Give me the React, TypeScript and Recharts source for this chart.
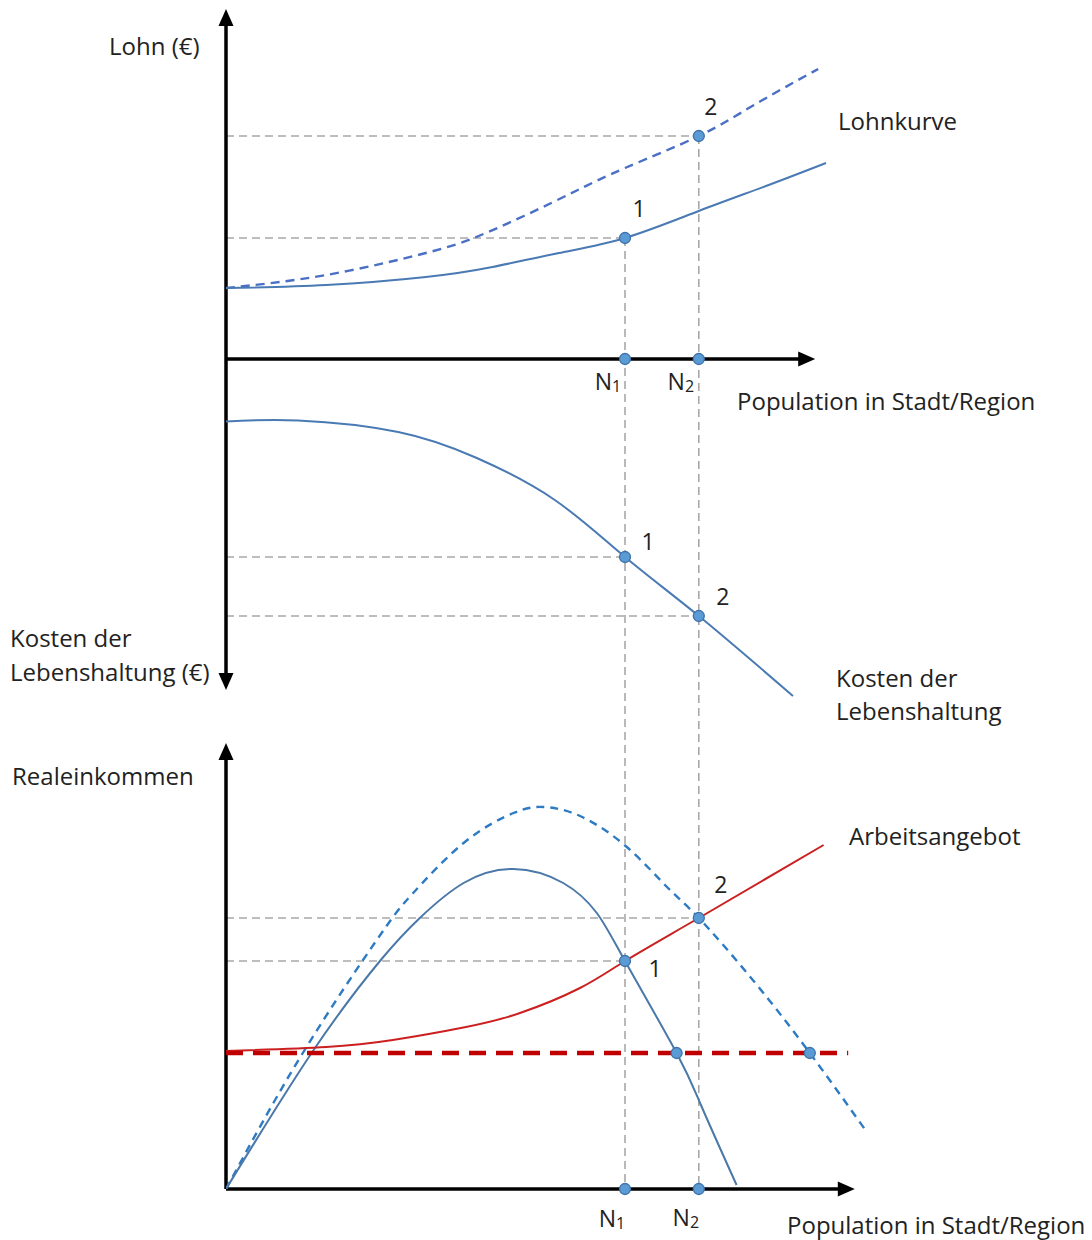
import React from 'react';
import { ComposedChart, Line, XAxis, YAxis, ReferenceLine, ReferenceDot } from 'recharts';

// ---- population positions ----
const N1 = 66.5;
const N2 = 78.8;

// ---- top panel: wages (Lohn) ----
const WAGE_X = [0, 16.7, 33.3, 44.4, 55.5, 66.5, 78.8, 90, 100];
const WAGE_BASE = [7.1, 7.4, 8.2, 9.2, 10.6, 12.1, 14.8, 17.3, 19.6];
const WAGE_HIGH_X = [0, 16.7, 33.3, 41.7, 50, 58.3, 66.5, 78.8, 88, 98.7];
const WAGE_HIGH = [7.1, 8.4, 10.6, 12.2, 14.4, 16.8, 19.1, 22.3, 25.4, 29.0];
const W1 = 12.1;
const W2 = 22.3;

// ---- middle panel: cost of living (plotted downward) ----
const COST_X = [0, 12, 28.7, 41.8, 54.8, 66.5, 78.8, 94.5];
const COST = [6.25, 6.15, 7.3, 9.9, 14.1, 19.8, 25.7, 33.7];
const C1 = 19.8;
const C2 = 25.7;

// ---- bottom panel: real income ----
const REAL_X = [0, 14.6, 25.8, 32.3, 39.6, 47.9, 56.2, 61.8, 66.5, 75.1, 79.3, 85.1];
const REAL = [0, 13.9, 22.9, 27.1, 30.6, 32.0, 30.6, 27.6, 22.8, 13.6, 8.2, 0.4];
const REAL_HIGH_X = [0, 12.8, 25.7, 31.2, 39.6, 47.9, 52.9, 59, 66.8, 73.5, 78.8, 87.8, 97.3, 106.8];
const REAL_HIGH = [0, 13.6, 25.4, 29.6, 34.6, 37.6, 38.2, 37.3, 34.2, 30.2, 27.1, 20.9, 13.6, 5.7];
const SUPPLY_X = [0, 16.7, 27.8, 40, 49, 59, 66.5, 78.8, 99.6];
const SUPPLY = [13.8, 14.2, 14.9, 16.2, 17.6, 20.1, 22.8, 27.1, 34.4];
const RESERVATION = 13.6;
const RESERVATION_END = 103.7;
const R1 = 22.8;
const R2 = 27.1;
const XA = 75.1;
const XB = 97.3;

// ---- axis extents ----
const X_DOMAIN = [0, 120];
const WAGE_DOMAIN = [-83, 35];
const COST_DOMAIN = [-35, 83];
const REAL_DOMAIN = [0, 118];
const WAGE_AXIS_TOP = 35;
const COST_AXIS_END = 33.1;
const TOP_POP_AXIS_END = 98.2;
const REAL_AXIS_TOP = 44.6;
const BOTTOM_POP_AXIS_END = 104.8;

const zip = (xs: number[], ys: number[]) => xs.map((x, i) => ({ x, y: ys[i] }));

const wageBase = zip(WAGE_X, WAGE_BASE);
const wageHigh = zip(WAGE_HIGH_X, WAGE_HIGH);
const cost = zip(COST_X, COST);
const real = zip(REAL_X, REAL);
const realHigh = zip(REAL_HIGH_X, REAL_HIGH);
const supply = zip(SUPPLY_X, SUPPLY);

const FONT = "'Open Sans', sans-serif";
const FS = 24;
const TXT = '#222';

const arrow = (props: any) => {
  const { x1, y1, x2, y2 } = props;
  const dx = x2 - x1;
  const dy = y2 - y1;
  const len = Math.hypot(dx, dy) || 1;
  const ux = dx / len;
  const uy = dy / len;
  const L = 17;
  const W = 7.5;
  const bx = x2 - ux * L;
  const by = y2 - uy * L;
  const pts = `${x2},${y2} ${bx - uy * W},${by + ux * W} ${bx + uy * W},${by - ux * W}`;
  return (
    <g>
      <line x1={x1} y1={y1} x2={bx + ux * 2} y2={by + uy * 2} stroke="#000" strokeWidth={3.5} />
      <polygon points={pts} fill="#000" />
    </g>
  );
};

const dot = (label: string, dx: number, dy: number) => (p: any) => (
  <g>
    <circle cx={p.cx} cy={p.cy} r={5.5} fill="#5b9bd5" stroke="#3f72a8" strokeWidth={1.3} />
    {label ? (
      <text x={p.cx + dx} y={p.cy + dy} textAnchor="middle" dominantBaseline="central" fontFamily={FONT} fontSize={FS - 1} fill={TXT}>
        {label}
      </text>
    ) : null}
  </g>
);

const nDot = (sub: string, dx: number, dy: number) => (p: any) => (
  <g>
    <circle cx={p.cx} cy={p.cy} r={5.5} fill="#5b9bd5" stroke="#3f72a8" strokeWidth={1.3} />
    <text x={p.cx + dx} y={p.cy + dy} textAnchor="middle" dominantBaseline="central" fontFamily={FONT} fontSize={FS - 1} fill={TXT}>
      N<tspan fontSize={16} dy={5}>{sub}</tspan>
    </text>
  </g>
);

const gray = { stroke: '#a8a8a8', strokeWidth: 1.6, strokeDasharray: '8 5', ifOverflow: 'visible' as const };

const labels: { t: string; x: number; y: number }[] = [
  { t: 'Lohn (€)', x: 109, y: 48 },
  { t: 'Lohnkurve', x: 838, y: 123 },
  { t: 'Population in Stadt/Region', x: 737, y: 403 },
  { t: 'Kosten der', x: 10, y: 640 },
  { t: 'Lebenshaltung (€)', x: 10, y: 674 },
  { t: 'Kosten der', x: 836, y: 680 },
  { t: 'Lebenshaltung', x: 836, y: 713 },
  { t: 'Realeinkommen', x: 12, y: 778 },
  { t: 'Arbeitsangebot', x: 849, y: 838 },
  { t: 'Population in Stadt/Region', x: 787, y: 1227 },
];

const curve = { type: 'natural' as const, dot: false, activeDot: false, isAnimationActive: false };

export default function App() {
  return (
    <div style={{ position: 'absolute', left: 0, top: 0, width: 1092, height: 1240, background: '#fff' }}>
      <ComposedChart width={1092} height={1240} margin={{ top: 9, right: 146, bottom: 51, left: 226 }}>
        <XAxis dataKey="x" type="number" domain={X_DOMAIN} hide allowDataOverflow />
        <YAxis yAxisId="wage" type="number" domain={WAGE_DOMAIN} hide allowDataOverflow />
        <YAxis yAxisId="cost" type="number" domain={COST_DOMAIN} reversed hide allowDataOverflow />
        <YAxis yAxisId="real" type="number" domain={REAL_DOMAIN} hide allowDataOverflow />

        {/* guide lines */}
        <ReferenceLine yAxisId="wage" segment={[{ x: 0, y: W1 }, { x: N1, y: W1 }]} {...gray} />
        <ReferenceLine yAxisId="wage" segment={[{ x: 0, y: W2 }, { x: N2, y: W2 }]} {...gray} />
        <ReferenceLine yAxisId="wage" segment={[{ x: N1, y: W1 }, { x: N1, y: WAGE_DOMAIN[0] }]} {...gray} />
        <ReferenceLine yAxisId="wage" segment={[{ x: N2, y: W2 }, { x: N2, y: WAGE_DOMAIN[0] }]} {...gray} />
        <ReferenceLine yAxisId="cost" segment={[{ x: 0, y: C1 }, { x: N1, y: C1 }]} {...gray} />
        <ReferenceLine yAxisId="cost" segment={[{ x: 0, y: C2 }, { x: N2, y: C2 }]} {...gray} />
        <ReferenceLine yAxisId="real" segment={[{ x: 0, y: R1 }, { x: N1, y: R1 }]} {...gray} />
        <ReferenceLine yAxisId="real" segment={[{ x: 0, y: R2 }, { x: N2, y: R2 }]} {...gray} />

        {/* axes */}
        <ReferenceLine yAxisId="wage" segment={[{ x: 0, y: 0 }, { x: 0, y: WAGE_AXIS_TOP }]} shape={arrow} ifOverflow="visible" />
        <ReferenceLine yAxisId="cost" segment={[{ x: 0, y: 0 }, { x: 0, y: COST_AXIS_END }]} shape={arrow} ifOverflow="visible" />
        <ReferenceLine yAxisId="wage" segment={[{ x: 0, y: 0 }, { x: TOP_POP_AXIS_END, y: 0 }]} shape={arrow} ifOverflow="visible" />
        <ReferenceLine yAxisId="real" segment={[{ x: 0, y: 0 }, { x: 0, y: REAL_AXIS_TOP }]} shape={arrow} ifOverflow="visible" />
        <ReferenceLine yAxisId="real" segment={[{ x: 0, y: 0 }, { x: BOTTOM_POP_AXIS_END, y: 0 }]} shape={arrow} ifOverflow="visible" />

        {/* curves */}
        <Line yAxisId="wage" data={wageHigh} dataKey="y" stroke="#4a6fc4" strokeWidth={2.4} strokeDasharray="9 6" {...curve} />
        <Line yAxisId="wage" data={wageBase} dataKey="y" stroke="#4a7ab3" strokeWidth={2} {...curve} />
        <Line yAxisId="cost" data={cost} dataKey="y" stroke="#4a7ab3" strokeWidth={2} {...curve} />
        <Line yAxisId="real" data={realHigh} dataKey="y" stroke="#2e7bc4" strokeWidth={2.4} strokeDasharray="8 6" {...curve} />
        <Line yAxisId="real" data={real} dataKey="y" stroke="#4a78a8" strokeWidth={2} {...curve} />
        <Line yAxisId="real" data={supply} dataKey="y" stroke="#cc2020" strokeWidth={2} {...curve} />
        <ReferenceLine yAxisId="real" segment={[{ x: 0, y: RESERVATION }, { x: RESERVATION_END, y: RESERVATION }]} stroke="#c00000" strokeWidth={4.5} strokeDasharray="17 10" ifOverflow="visible" />

        {/* points */}
        <ReferenceDot yAxisId="wage" x={N1} y={W1} r={5} shape={dot('1', 14, -30)} ifOverflow="visible" />
        <ReferenceDot yAxisId="wage" x={N2} y={W2} r={5} shape={dot('2', 12, -30)} ifOverflow="visible" />
        <ReferenceDot yAxisId="wage" x={N1} y={0} r={5} shape={nDot('1', -17, 22)} ifOverflow="visible" />
        <ReferenceDot yAxisId="wage" x={N2} y={0} r={5} shape={nDot('2', -18, 22)} ifOverflow="visible" />
        <ReferenceDot yAxisId="cost" x={N1} y={C1} r={5} shape={dot('1', 23, -16)} ifOverflow="visible" />
        <ReferenceDot yAxisId="cost" x={N2} y={C2} r={5} shape={dot('2', 24, -20)} ifOverflow="visible" />
        <ReferenceDot yAxisId="real" x={N1} y={R1} r={5} shape={dot('1', 30, 7)} ifOverflow="visible" />
        <ReferenceDot yAxisId="real" x={N2} y={R2} r={5} shape={dot('2', 22, -34)} ifOverflow="visible" />
        <ReferenceDot yAxisId="real" x={XA} y={RESERVATION} r={5} shape={dot('', 0, 0)} ifOverflow="visible" />
        <ReferenceDot yAxisId="real" x={XB} y={RESERVATION} r={5} shape={dot('', 0, 0)} ifOverflow="visible" />
        <ReferenceDot yAxisId="real" x={N1} y={0} r={5} shape={nDot('1', -13, 29)} ifOverflow="visible" />
        <ReferenceDot yAxisId="real" x={N2} y={0} r={5} shape={nDot('2', -13, 28)} ifOverflow="visible" />
      </ComposedChart>
      {labels.map((l, i) => (
        <div
          key={i}
          style={{
            position: 'absolute',
            left: l.x,
            top: l.y - 14,
            fontFamily: FONT,
            fontSize: FS,
            lineHeight: `${FS}px`,
            whiteSpace: 'nowrap',
            color: TXT,
          }}
        >
          {l.t}
        </div>
      ))}
    </div>
  );
}
